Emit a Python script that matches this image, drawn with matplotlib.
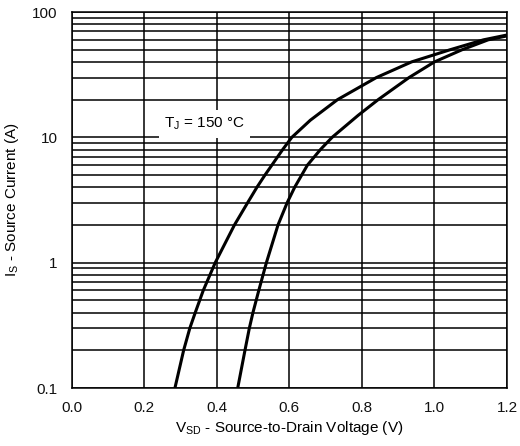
import matplotlib
matplotlib.use("Agg")
import matplotlib.pyplot as plt
from matplotlib.ticker import LogLocator, NullFormatter

plt.rcParams['font.family'] = ['Liberation Sans', 'DejaVu Sans']
plt.rcParams['mathtext.default'] = 'regular'

v_left = [0.285, 0.309, 0.326, 0.341, 0.363, 0.396, 0.449, 0.485, 0.511, 0.533,
          0.552, 0.582, 0.607, 0.658, 0.733, 0.840, 0.937, 1.043, 1.135, 1.200]
i_left = [0.1, 0.2, 0.3, 0.4, 0.6, 1.0, 2.0, 3.0, 4.0, 5.0,
          6.0, 8.0, 10.0, 13.7, 20.0, 30.0, 40.0, 50.0, 60.0, 65.6]

v_right = [0.458, 0.478, 0.490, 0.500, 0.516, 0.537, 0.569, 0.594, 0.615, 0.650,
           0.686, 0.718, 0.790, 0.845, 0.930, 1.000, 1.076, 1.148, 1.200]
i_right = [0.1, 0.2, 0.3, 0.4, 0.6, 1.0, 2.0, 3.0, 4.0, 6.0,
           8.0, 10.0, 15.0, 20.0, 30.0, 40.0, 50.0, 60.0, 64.5]

x_ticks = [0.0, 0.2, 0.4, 0.6, 0.8, 1.0, 1.2]
x_labels = ['0.0', '0.2', '0.4', '0.6', '0.8', '1.0', '1.2']
y_ticks = [0.1, 1, 10, 100]
y_labels = ['0.1', '1', '10', '100']

fig = plt.figure(figsize=(5.2, 4.46), dpi=100)
ax = fig.add_axes([0.1375, 0.130, 0.8375, 0.843])

ax.plot(v_left, i_left, color='black', lw=2.2, solid_capstyle='butt')
ax.plot(v_right, i_right, color='black', lw=2.2, solid_capstyle='butt')

ax.set_yscale('log')
ax.set_xlim(0, 1.2)
ax.set_ylim(0.1, 100)

ax.set_xticks(x_ticks)
ax.set_xticklabels(x_labels)
ax.set_yticks(y_ticks)
ax.set_yticklabels(y_labels)
ax.yaxis.set_minor_locator(LogLocator(base=10, subs=range(2, 10)))
ax.yaxis.set_minor_formatter(NullFormatter())

ax.grid(True, which='both', axis='y', color='black', lw=1.1)
ax.grid(True, which='major', axis='x', color='black', lw=1.1)
ax.set_axisbelow(True)
for s in ax.spines.values():
    s.set_color('black')
    s.set_linewidth(1.1)

ax.tick_params(which='both', length=0, labelsize=11, colors='#111111')
ax.tick_params(axis='y', pad=10)
ax.tick_params(axis='x', pad=9)

ax.set_xlabel('V$_{SD}$ - Source-to-Drain Voltage (V)', fontsize=11, labelpad=3)
ax.set_ylabel('I$_S$ - Source Current (A)', fontsize=11, labelpad=8)

ax.text(0.255, 12.8, 'T$_J$ = 150 °C', fontsize=11, va='center', ha='left',
        bbox=dict(facecolor='white', edgecolor='none', pad=4), zorder=5)

fig.savefig('out.png', dpi=100)
